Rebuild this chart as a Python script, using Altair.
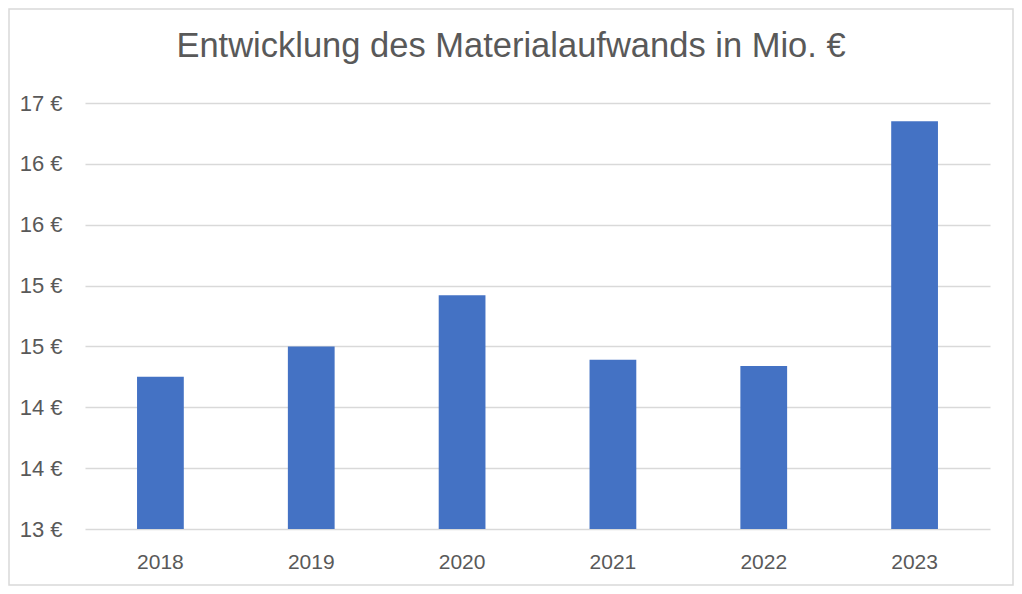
import altair as alt
import pandas as pd

years = ["2018", "2019", "2020", "2021", "2022", "2023"]
values = [14.25, 14.5, 14.92, 14.39, 14.34, 16.35]
title_text = "Entwicklung des Materialaufwands in Mio. €"

df = pd.DataFrame({"Jahr": years, "Wert": values})

FONT = "Liberation Sans"
GREY = "#595959"

W, H = 905, 426

bars = alt.Chart(df).mark_bar(color="#4472C4", clip=True).encode(
    x=alt.X("Jahr:N", sort=years,
            scale=alt.Scale(paddingInner=0.69, paddingOuter=0.345),
            axis=alt.Axis(title=None, labelAngle=0, domain=False, ticks=False,
                          labelFont=FONT, labelFontSize=21, labelColor=GREY,
                          labelPadding=22)),
    y=alt.Y("Wert:Q",
            scale=alt.Scale(domain=[13, 16.5], nice=False, zero=False),
            axis=alt.Axis(title=None, values=[13, 13.5, 14, 14.5, 15, 15.5, 16, 16.5],
                          labelExpr="round(datum.value) + ' €'",
                          domain=False, ticks=False, grid=True,
                          gridColor="#d9d9d9", gridWidth=1.3,
                          labelFont=FONT, labelFontSize=22, labelColor=GREY,
                          labelPadding=23)),
)

title = alt.Chart(pd.DataFrame({"t": [title_text]})).mark_text(
    font=FONT, fontSize=34.5, color=GREY, baseline="alphabetic", align="center"
).encode(text="t:N", x=alt.value(426), y=alt.value(-46))

border = alt.Chart(pd.DataFrame({"t": [0]})).mark_rect(
    fill=None, stroke="#d9d9d9", strokeWidth=1.5
).encode(x=alt.value(-76), x2=alt.value(928), y=alt.value(-94), y2=alt.value(482))

chart = alt.layer(border, bars, title).properties(
    width=W, height=H,
    background="white",
    autosize=alt.AutoSizeParams(type="none"),
    padding={"left": 77, "top": 95, "right": 24, "bottom": 57},
).configure_view(stroke="transparent", strokeWidth=0)

chart.save("out.html", embed_options={"renderer": "svg", "actions": False})
